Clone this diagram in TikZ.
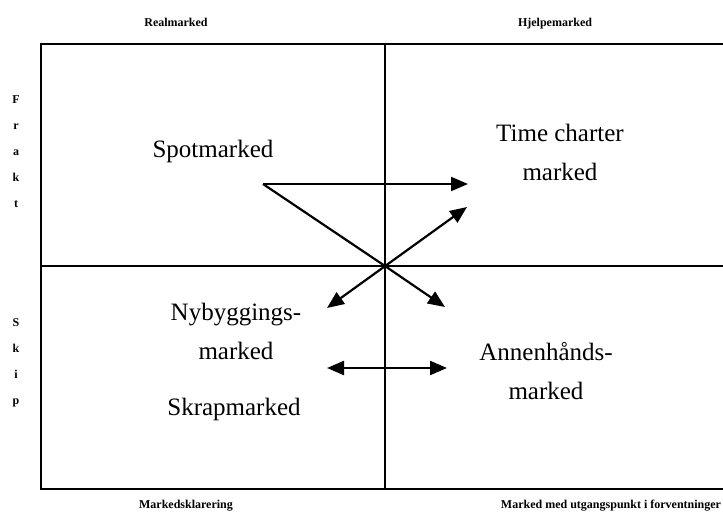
\documentclass[tikz,border=0pt]{standalone}
\usepackage{fontspec}
\setmainfont{Liberation Serif}
\usetikzlibrary{arrows.meta}

\tikzset{
  heading/.style={font=\fontsize{12}{14}\selectfont\bfseries, inner sep=0pt, anchor=base},
  market/.style={font=\fontsize{25}{39}\selectfont, align=center, inner sep=0pt},
  frame/.style={line width=2pt},
  link/.style={line width=2.2pt, -{Triangle[length=17pt,width=14pt]}},
  twoway/.style={line width=2.2pt, {Triangle[length=17pt,width=14pt]}-{Triangle[length=17pt,width=14pt]}}
}

\begin{document}
\begin{tikzpicture}[x=1pt, y=-1pt]
\useasboundingbox (0,0) rectangle (723,518);

% frame
\draw[frame] (723,44) -- (41,44) -- (41,489) -- (723,489);
\draw[frame] (41,266) -- (723,266);
\draw[frame] (385,44) -- (385,489);

% headings
\node (real) [heading] at (176,27) {Realmarked};
\node (hjelp) [heading] at (555,27) {Hjelpemarked};
\node (klar) [heading] at (186,508) {Markedsklarering};
\node (forv) [heading] at (611,508) {Marked med utgangspunkt i forventninger};

% side letters
\foreach \ch [count=\i] in {F,r,a,k,t}
  \node (frakt\i) [heading] at (16,78+26*\i) {\ch};
\foreach \ch [count=\i] in {S,k,i,p}
  \node (skip\i) [heading] at (16,301+26*\i) {\ch};

% markets
\node (spot) [market] at (213,151) {Spotmarked};
\node (time) [market] at (560,152) {Time charter\\marked};
\node (ny) [market] at (236,331) {Nybyggings-\\marked};
\node (skrap) [market] at (234,409) {Skrapmarked};
\node (annen) [market] at (546,371) {Annenhånds-\\marked};

% arrow ends
\coordinate (start) at (263,184);
\coordinate (cross) at (385,266);
\coordinate (toTime) at (468,184);
\coordinate (toAnnen) at (445,307);
\coordinate (toTimeB) at (467,207);
\coordinate (toNy) at (327,308);
\coordinate (left) at (327,368);
\coordinate (right) at (447,368);

\draw[link] (start) -- (toTime);
\draw[link] (start) -- (cross) -- (toAnnen);
\draw[twoway] (toNy) -- (toTimeB);
\draw[twoway] (left) -- (right);
\end{tikzpicture}
\end{document}
